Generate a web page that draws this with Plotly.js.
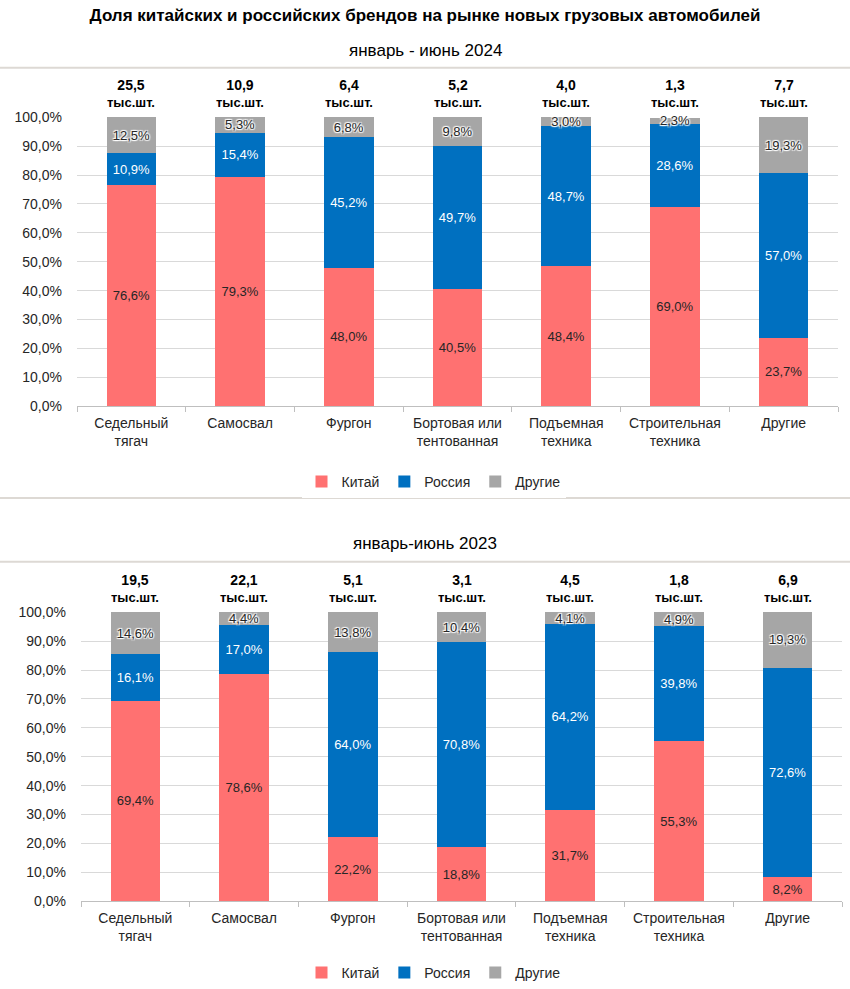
<!DOCTYPE html>
<html><head><meta charset="utf-8">
<script src="https://cdn.plot.ly/plotly-3.0.1.min.js"></script>
<style>html,body{margin:0;padding:0;background:#fff}#chart{width:850px;height:989px}</style>
</head><body><div id="chart"></div>
<script>
const categories = ['Седельный<br>тягач','Самосвал','Фургон','Бортовая или<br>тентованная','Подъемная<br>техника','Строительная<br>техника','Другие'];
const seriesNames = ['Китай','Россия','Другие'];
const china2024  = [76.6, 79.3, 48.0, 40.5, 48.4, 69.0, 23.7];
const russia2024 = [10.9, 15.4, 45.2, 49.7, 48.7, 28.6, 57.0];
const other2024  = [12.5, 5.3, 6.8, 9.8, 3.0, 2.3, 19.3];
const totals2024 = [25.5, 10.9, 6.4, 5.2, 4.0, 1.3, 7.7];
const china2023  = [69.4, 78.6, 22.2, 18.8, 31.7, 55.3, 8.2];
const russia2023 = [16.1, 17.0, 64.0, 70.8, 64.2, 39.8, 72.6];
const other2023  = [14.6, 4.4, 13.8, 10.4, 4.1, 4.9, 19.3];
const totals2023 = [19.5, 22.1, 5.1, 3.1, 4.5, 1.8, 6.9];
const yTicks = [0, 10, 20, 30, 40, 50, 60, 70, 80, 90, 100];
const mainTitle = 'Доля китайских и российских брендов на рынке новых грузовых автомобилей';
const subTitle2024 = 'январь - июнь 2024';
const subTitle2023 = 'январь-июнь 2023';
const unitLabel = 'тыс.шт.';

const FONT = 'Liberation Sans, Arial, sans-serif';
const colors = ['#FF7171', '#0070C0', '#A6A6A6'];
const textColors = ['#262626', '#FFFFFF', '#262626'];
const halo = '1px 1px 1px #fff, -1px -1px 1px #fff, 1px -1px 1px #fff, -1px 1px 1px #fff';
const H = 989, W = 850;
const py = px => 1 - px / H;
const fmt = v => v.toFixed(1).replace('.', ',');

function makeTraces(seriesVals, xa, ya, lg) {
  return seriesVals.map((vals, i) => ({
    type: 'bar', name: seriesNames[i], x: categories, y: vals,
    xaxis: xa, yaxis: ya, legend: lg,
    marker: {color: colors[i], line: {width: 0}},
    text: vals.map(v => fmt(v) + '%'), texttemplate: '%{text}',
    textposition: 'inside', insidetextanchor: 'middle',
    textangle: 0, constraintext: 'none', cliponaxis: false,
    textfont: {family: FONT, size: 13, color: textColors[i], shadow: i === 2 ? halo : 'none'},
    hoverinfo: 'skip'
  }));
}

const data = [
  ...makeTraces([china2024, russia2024, other2024], 'x', 'y', 'legend'),
  ...makeTraces([china2023, russia2023, other2023], 'x2', 'y2', 'legend2')
];

const totalAnn = (totals, xr, yr) => totals.map((t, i) => ({
  x: categories[i], y: 100, xref: xr, yref: yr, yanchor: 'bottom', yshift: 5,
  showarrow: false,
  text: '<b><span style="font-size:14px">' + fmt(t) + '</span><br>' + unitLabel + '</b>',
  font: {family: FONT, size: 13, color: '#000'}
}));

const yax = (dom, anchor) => ({
  domain: dom, anchor: anchor, range: [0, 100.2], tickmode: 'array', tickvals: yTicks,
  ticktext: yTicks.map(v => fmt(v) + '%'),
  showgrid: true, gridcolor: '#D9D9D9', gridwidth: 1,
  zeroline: false, showline: false, ticks: '', ticklabelstandoff: 14,
  tickfont: {family: FONT, size: 14, color: '#262626'}, fixedrange: true
});
const xax = (dom, anchor) => ({
  domain: dom, anchor: anchor, type: 'category', showline: true, linecolor: '#BFBFBF', linewidth: 1,
  ticks: 'outside', tickson: 'boundaries', ticklen: 5, tickcolor: '#BFBFBF', ticklabelstandoff: 4,
  showgrid: false, tickfont: {family: FONT, size: 14, color: '#262626'}, fixedrange: true
});

const sepLine = y => ({type: 'line', xref: 'paper', yref: 'paper', x0: 0, x1: 1, y0: py(y), y1: py(y),
  line: {color: '#DDD9D4', width: 2}});

const legendBase = y => ({orientation: 'h', x: 0.51, xanchor: 'center', y: py(y), yanchor: 'middle',
  traceorder: 'normal', font: {family: FONT, size: 14, color: '#262626'}, itemwidth: 30});

const layout = {
  width: W, height: H, margin: {l: 0, r: 0, t: 0, b: 0},
  paper_bgcolor: '#fff', plot_bgcolor: '#fff',
  separators: ', ',
  barmode: 'stack', bargap: 0.545,
  font: {family: FONT, color: '#262626'},
  title: {text: '<b>' + mainTitle + '</b>', x: 0.5, xanchor: 'center', y: py(15), yanchor: 'middle', yref: 'container',
    font: {family: FONT, size: 17, color: '#000'}},
  xaxis: xax([77 / W, 838 / W], 'y'), yaxis: yax([py(407), py(117)], 'x'),
  xaxis2: xax([81 / W, 842 / W], 'y2'), yaxis2: yax([py(903), py(613)], 'x2'),
  legend: legendBase(483),
  legend2: legendBase(975),
  shapes: [sepLine(68), sepLine(499), sepLine(563)],
  annotations: [
    {text: subTitle2024, xref: 'paper', yref: 'paper', x: 0.5, y: py(51), yanchor: 'middle', showarrow: false,
      font: {family: FONT, size: 17, color: '#000'}},
    {text: subTitle2023, xref: 'paper', yref: 'paper', x: 0.5, y: py(545), yanchor: 'middle', showarrow: false,
      font: {family: FONT, size: 17, color: '#000'}},
    ...totalAnn(totals2024, 'x', 'y'),
    ...totalAnn(totals2023, 'x2', 'y2')
  ]
};

Plotly.newPlot('chart', data, layout, {staticPlot: true, displayModeBar: false});
</script></body></html>
